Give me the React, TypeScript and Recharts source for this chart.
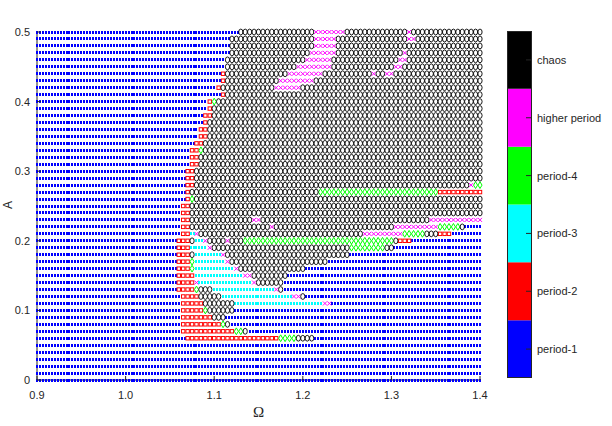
import React from 'react'
import { ScatterChart, Scatter, XAxis, YAxis, BarChart, Bar } from 'recharts'

const omegaTicks = [0.9, 1.0, 1.1, 1.2, 1.3, 1.4]
const ampTicks = [0, 0.1, 0.2, 0.3, 0.4, 0.5]
const regimeNames = ['period-1', 'period-2', 'period-3', 'period-4', 'higher period', 'chaos']
const regimeColors = ['#0000ff', '#ff0000', '#00ffff', '#00ff00', '#ff00ff', '#000000']

// amplitude rows of the sweep, top to bottom
const ampRows = [
  0.5, 0.49, 0.48, 0.47, 0.46, 0.45, 0.44, 0.43, 0.42, 0.41,
  0.4, 0.39, 0.38, 0.37, 0.36, 0.35, 0.34, 0.33, 0.32, 0.31,
  0.3, 0.29, 0.28, 0.27, 0.26, 0.25, 0.24, 0.23, 0.22, 0.21,
  0.2, 0.19, 0.18, 0.17, 0.16, 0.15, 0.14, 0.13, 0.12, 0.11,
  0.1, 0.09, 0.08, 0.07, 0.06, 0.05, 0.04, 0.03, 0.02, 0.01, 0,
]

// per row: [regime, first Ω of the run]; regime 1..6 = period-1 .. chaos; row starts as period-1
const regimeRuns: [number, number][][] = [
  [[6, 1.13], [5, 1.215], [6, 1.25], [5, 1.32], [6, 1.325]],
  [[6, 1.12], [5, 1.215], [6, 1.24], [5, 1.32], [6, 1.33]],
  [[6, 1.12], [5, 1.215], [6, 1.24]],
  [[6, 1.12], [5, 1.21], [6, 1.24], [5, 1.315], [6, 1.32]],
  [[6, 1.115], [5, 1.205], [6, 1.235], [5, 1.31], [6, 1.32]],
  [[6, 1.115], [5, 1.195], [6, 1.235], [5, 1.305], [6, 1.315]],
  [[2, 1.11], [6, 1.115], [5, 1.185], [6, 1.225], [5, 1.28], [6, 1.285], [5, 1.295], [6, 1.305]],
  [[2, 1.11], [6, 1.115], [5, 1.175], [6, 1.215]],
  [[2, 1.105], [6, 1.11], [5, 1.17], [6, 1.2]],
  [[2, 1.11], [6, 1.115]],
  [[2, 1.095], [4, 1.1], [6, 1.105]],
  [[2, 1.095], [6, 1.1]],
  [[2, 1.09], [6, 1.1]],
  [[2, 1.09], [6, 1.095]],
  [[2, 1.085], [6, 1.095]],
  [[2, 1.085], [6, 1.095]],
  [[2, 1.08], [6, 1.09]],
  [[2, 1.075], [4, 1.085], [6, 1.09]],
  [[2, 1.075], [6, 1.085]],
  [[2, 1.075], [6, 1.085]],
  [[2, 1.07], [6, 1.08]],
  [[2, 1.07], [6, 1.08]],
  [[2, 1.07], [6, 1.08], [5, 1.39], [4, 1.395]],
  [[2, 1.07], [6, 1.075], [4, 1.22], [2, 1.355]],
  [[2, 1.07], [4, 1.075], [6, 1.08]],
  [[2, 1.065], [6, 1.075]],
  [[2, 1.065], [6, 1.075]],
  [[2, 1.065], [6, 1.075], [5, 1.145], [6, 1.155], [5, 1.345]],
  [[2, 1.065], [6, 1.075], [5, 1.165], [6, 1.17], [5, 1.305], [4, 1.355], [6, 1.38], [1, 1.385]],
  [[2, 1.065], [3, 1.075], [5, 1.08], [6, 1.085], [5, 1.27], [4, 1.315], [6, 1.34], [2, 1.355], [1, 1.37]],
  [[2, 1.06], [6, 1.075], [3, 1.08], [5, 1.09], [6, 1.095], [5, 1.115], [6, 1.12], [4, 1.135], [6, 1.305], [2, 1.31], [1, 1.325]],
  [[2, 1.06], [3, 1.075], [5, 1.095], [6, 1.1], [4, 1.255], [6, 1.295], [1, 1.305]],
  [[2, 1.06], [6, 1.075], [3, 1.08], [5, 1.11], [6, 1.115], [1, 1.255]],
  [[2, 1.06], [4, 1.075], [3, 1.08], [5, 1.115], [6, 1.12], [1, 1.23]],
  [[2, 1.06], [4, 1.075], [3, 1.08], [5, 1.125], [6, 1.13], [1, 1.205]],
  [[2, 1.06], [3, 1.08], [5, 1.135], [6, 1.145], [1, 1.185]],
  [[2, 1.06], [5, 1.08], [3, 1.085], [5, 1.145], [6, 1.15], [1, 1.18]],
  [[2, 1.06], [4, 1.08], [6, 1.085], [3, 1.1], [5, 1.17], [6, 1.175], [1, 1.18]],
  [[2, 1.065], [6, 1.085], [3, 1.11], [5, 1.19], [6, 1.2], [1, 1.205]],
  [[2, 1.065], [6, 1.09], [3, 1.125], [5, 1.225], [1, 1.235]],
  [[2, 1.065], [4, 1.09], [6, 1.095], [1, 1.125]],
  [[2, 1.065], [6, 1.1], [1, 1.115]],
  [[2, 1.065], [4, 1.11], [6, 1.115], [1, 1.12]],
  [[2, 1.065], [4, 1.125], [6, 1.135], [1, 1.14]],
  [[2, 1.07], [4, 1.175], [6, 1.195], [1, 1.215]],
  [], [], [], [], [], [],
]

// sweep grid in Ω: coarse cells for open markers, dots drawn 1.5x denser
const OMEGA0 = 0.9
const STEP = 0.005
const CELLS = 101
const round6 = (v: number) => Math.round(v * 1e6) / 1e6

const byRegime: { omega: number; a: number }[][] = regimeNames.map(() => [])
ampRows.forEach((a, r) => {
  const runs = regimeRuns[r]
  const regimeAt = (k: number) => {
    let code = 1
    for (const [c, start] of runs) if (k >= Math.round((start - OMEGA0) / STEP)) code = c
    return code
  }
  for (let k = 0; k < CELLS; k++) {
    const code = regimeAt(k)
    if (code !== 1 && code !== 3) byRegime[code - 1].push({ omega: round6(OMEGA0 + k * STEP), a })
  }
  for (let j = 0; j <= (CELLS - 1) * 1.5; j++) {
    const code = regimeAt(Math.round(j / 1.5))
    if (code === 1 || code === 3) byRegime[code - 1].push({ omega: round6(OMEGA0 + (j * STEP) / 1.5), a })
  }
})

const dot = (color: string) => (p: any) => (
  <rect x={Math.round(p.cx - 1)} y={Math.round(p.cy - 1.5)} width={2} height={3} fill={color} shapeRendering="crispEdges" />
)

const markers: ((p: any) => React.ReactElement)[] = [
  dot(regimeColors[0]),
  (p) => <rect x={p.cx - 1.7} y={p.cy - 1.7} width={3.4} height={3.4} fill="none" stroke={regimeColors[1]} strokeWidth={1} />,
  dot(regimeColors[2]),
  (p) => (
    <path d={`M${p.cx},${p.cy - 3.4}L${p.cx + 2},${p.cy}L${p.cx},${p.cy + 3.4}L${p.cx - 2},${p.cy}Z`}
      fill="none" stroke={regimeColors[3]} strokeWidth={1} />
  ),
  (p) => (
    <path d={`M${p.cx - 2},${p.cy - 2}L${p.cx + 2},${p.cy + 2}M${p.cx - 2},${p.cy + 2}L${p.cx + 2},${p.cy - 2}`}
      stroke={regimeColors[4]} strokeWidth={1} />
  ),
  (p) => <ellipse cx={p.cx} cy={p.cy} rx={2.1} ry={2.9} fill="none" stroke={regimeColors[5]} strokeWidth={0.9} />,
]

const W = 612
const H = 426
const LEFT = 37
const RIGHT = 480
const TOP = 32
const BOTTOM = 380
const AXIS = '#262626'
const font = { fontFamily: '"Liberation Sans", Arial, sans-serif', fontSize: 11, fill: AXIS }

const BottomTick = (p: any) => (
  <g>
    <line x1={p.x} x2={p.x} y1={BOTTOM} y2={BOTTOM - 4} stroke={AXIS} />
    <text x={p.x} y={BOTTOM + 19} textAnchor="middle" {...font}>{Number(p.payload.value).toFixed(1)}</text>
  </g>
)
const TopTick = (p: any) => <line x1={p.x} x2={p.x} y1={TOP} y2={TOP + 4} stroke={AXIS} />
const LeftTick = (p: any) => (
  <g>
    <line x1={LEFT} x2={LEFT + 4} y1={p.y} y2={p.y} stroke={AXIS} />
    <text x={LEFT - 7} y={p.y + 4} textAnchor="end" {...font}>{String(p.payload.value)}</text>
  </g>
)
const RightTick = (p: any) => <line x1={RIGHT} x2={RIGHT - 4} y1={p.y} y2={p.y} stroke={AXIS} />

const barRow = [Object.fromEntries(regimeNames.map((n) => [n, 1]))]
const ColorbarTick = (p: any) => (
  <g>
    <line x1={26} x2={32} y1={p.y} y2={p.y} stroke={AXIS} />
    <text x={37} y={p.y + 4} textAnchor="start" {...font}>{regimeNames[Math.floor(p.payload.value)]}</text>
  </g>
)

export default function App() {
  return (
    <div style={{ position: 'absolute', left: 0, top: 0, width: W, height: H, background: '#fff' }}>
      <ScatterChart width={W} height={H} margin={{ top: TOP, right: W - RIGHT, bottom: 16, left: 7 }}>
        <XAxis dataKey="omega" type="number" domain={[0.9, 1.4]} ticks={omegaTicks} height={30}
          stroke={AXIS} tickLine={false} tick={<BottomTick />} />
        <XAxis xAxisId="top" orientation="top" type="number" domain={[0.9, 1.4]} ticks={omegaTicks} height={0}
          stroke={AXIS} tickLine={false} tick={<TopTick />} />
        <YAxis dataKey="a" type="number" domain={[0, 0.5]} ticks={ampTicks} width={30}
          stroke={AXIS} tickLine={false} tick={<LeftTick />} />
        <YAxis yAxisId="right" orientation="right" type="number" domain={[0, 0.5]} ticks={ampTicks} width={0}
          stroke={AXIS} tickLine={false} tick={<RightTick />} />
        {regimeNames.map((n, i) => (
          <Scatter key={n} name={n} data={byRegime[i]} shape={markers[i]} isAnimationActive={false} />
        ))}
      </ScatterChart>

      <div style={{ position: 'absolute', left: 500, top: 0 }}>
        <BarChart width={112} height={H} data={barRow} margin={{ top: 31, right: 0, bottom: 48, left: 7 }}
          barCategoryGap={0}>
          <XAxis hide />
          <YAxis orientation="right" type="number" domain={[0, 6]} ticks={[0.5, 1.5, 2.5, 3.5, 4.5, 5.5]}
            width={80} axisLine={false} tickLine={false} tick={<ColorbarTick />} />
          {regimeNames.map((n, i) => (
            <Bar key={n} dataKey={n} stackId="c" fill={regimeColors[i]} isAnimationActive={false} />
          ))}
        </BarChart>
        <div style={{ position: 'absolute', left: 7, top: 31, width: 25, height: 347,
          border: `1px solid ${AXIS}`, boxSizing: 'border-box' }} />
      </div>

      <div style={{ position: 'absolute', left: 4, top: 198, transform: 'rotate(-90deg)',
        font: '12px "Liberation Sans", Arial, sans-serif', color: AXIS }}>A</div>
      <div style={{ position: 'absolute', left: 253, top: 404,
        font: '15px "Liberation Serif", "Times New Roman", serif', color: AXIS }}>Ω</div>
    </div>
  )
}
